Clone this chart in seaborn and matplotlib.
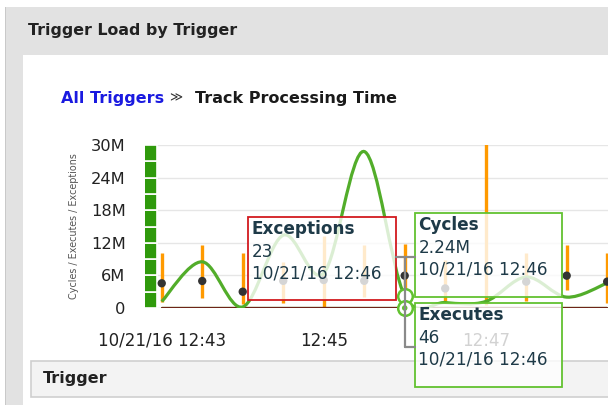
"""
Trigger load chart: cycles spline, mean/range markers and hover tooltips.
"""

import matplotlib

matplotlib.use("Agg")

import matplotlib.dates as mdates
import matplotlib.pyplot as plt
import numpy as np
import pandas as pd
import seaborn as sns
from matplotlib.patches import PathPatch, Rectangle
from matplotlib.path import Path

W, H = 608, 405

# ---- data -------------------------------------------------------------------
day = "2016-10-21"
times = ["12:43:00", "12:43:30", "12:44:00", "12:44:30", "12:45:00", "12:45:30",
         "12:46:00", "12:46:30", "12:47:00", "12:47:30", "12:48:00", "12:48:30"]
cycles_m = [1.2, 8.5, 0.2, 13.4, 6.4, 28.8, 2.24, 1.0, 1.2, 5.7, 2.0, 4.6]
mean_m = [4.55, 4.97, 3.0, 5.0, 5.15, 5.0, 5.95, 3.6, np.nan, 4.85, 5.95, 4.85]
low_m = [1.16, 1.8, 0.7, 0.9, 0.25, 2.1, 2.0, 1.2, 0.5, 1.2, 3.3, 0.9]
high_m = [10.2, 11.6, 10.2, 8.5, 13.3, 11.6, 11.8, 8.8, 31.0, 10.1, 11.6, 10.1]
executes = [44, 47, 45, 46, 43, 48, 46, 45, 47, 44, 46, 45]
exceptions = [22, 24, 21, 23, 22, 25, 23, 22, 24, 23, 21, 22]

column_time = "12:42:52"
column_segments_m = [3, 3, 3, 3, 3, 3, 3, 3, 3, 3]

yticks_m = [0, 6, 12, 18, 24, 30]
ytick_labels = ["0", "6M", "12M", "18M", "24M", "30M"]
xtick_times = ["12:43:00", "12:45:00", "12:47:00"]
xtick_labels = ["10/21/16 12:43", "12:45", "12:47"]
x_range = ["12:42:47.6", "12:48:30.6"]

selected = "12:46:00"
tooltips = [
    ("Exceptions", "23", "10/21/16 12:46"),
    ("Cycles", "2.24M", "10/21/16 12:46"),
    ("Executes", "46", "10/21/16 12:46"),
]

# ---- styling ----------------------------------------------------------------
GREEN_COL = "#2f9a0c"
GREEN_LINE = "#52ad2a"
ORANGE = "#ff9a00"
DARK_RED = "#6e2418"
TIP_TEXT = "#1e3a48"
TIP_GREEN = "#62c230"
TIP_RED = "#d21a1f"

sns.set_style("white")
plt.rcParams["font.family"] = ["DejaVu Sans"]


def to_dt(t):
    return pd.Timestamp(f"{day} {t}")


def fx(x):
    return x / W


def fy(y):
    return 1 - y / H


df = pd.DataFrame({
    "time": [to_dt(t) for t in times],
    "cycles": np.array(cycles_m) * 1e6,
    "mean": np.array(mean_m) * 1e6,
    "low": np.array(low_m) * 1e6,
    "high": np.array(high_m) * 1e6,
    "executes": executes,
    "exceptions": exceptions,
})

fig = plt.figure(figsize=(W / 100, H / 100), dpi=100)
fig.patch.set_facecolor("white")

# page chrome (behind the axes)
fig.add_artist(Rectangle((fx(6), fy(H)), fx(W - 6), (H - 7) / H, transform=fig.transFigure,
                         facecolor="#e2e2e2", edgecolor="none", zorder=-3))
fig.add_artist(Rectangle((fx(5), fy(H)), fx(1.5), (H - 7) / H, transform=fig.transFigure,
                         facecolor="#c9c9c9", edgecolor="none", zorder=-2))
fig.add_artist(Rectangle((fx(23), fy(H)), fx(W - 23), (H - 55) / H, transform=fig.transFigure,
                         facecolor="white", edgecolor="none", zorder=-2))
fig.add_artist(Rectangle((fx(31), fy(397)), fx(W - 31 + 5), 36 / H, transform=fig.transFigure,
                         facecolor="#f3f3f3", edgecolor="#cfcfcf", linewidth=1.2, zorder=-1))

fig.text(fx(28), fy(31), "Trigger Load by Trigger", fontsize=11.4, fontweight="bold",
         color="#222222", va="center", ha="left")
fig.text(fx(61), fy(98), "All Triggers", fontsize=11.5, fontweight="bold",
         color="#1a1ae0", va="center", ha="left")
fig.text(fx(169), fy(98), "\u226b", fontsize=9, color="#333333", va="center", ha="left")
fig.text(fx(195), fy(98), "Track Processing Time", fontsize=11.5, fontweight="bold",
         color="#1a1a1a", va="center", ha="left")
fig.text(fx(43), fy(379), "Trigger", fontsize=11.5, fontweight="bold",
         color="#222222", va="center", ha="left")
fig.text(fx(74), fy(226), "Cycles / Executes / Exceptions", fontsize=6.9,
         color="#555555", rotation=90, va="center", ha="center")

# ---- chart ------------------------------------------------------------------
ax = fig.add_axes([fx(145), fy(308), fx(W - 145), 163 / H])
ax.set_facecolor("none")
for s in ax.spines.values():
    s.set_visible(False)

ax.set_ylim(0, 30e6)
ax.set_xlim(to_dt(x_range[0]), to_dt(x_range[1]))
ax.set_yticks([v * 1e6 for v in yticks_m])
ax.set_yticklabels(ytick_labels)
ax.set_xticks([to_dt(t) for t in xtick_times])
ax.set_xticklabels(xtick_labels)
ax.grid(axis="y", color="#e6e6e6", linewidth=1)
ax.tick_params(axis="y", length=9, width=1, color="#c3d3e3", pad=5,
               labelsize=11.7, labelcolor="#222222")
ax.tick_params(axis="x", length=5, width=1, color="#c3d3e3", pad=12,
               labelsize=12, labelcolor="#222222")

# stacked green column
col_x = mdates.date2num(to_dt(column_time))
bottom = 0.0
for seg in column_segments_m:
    ax.bar(col_x, seg * 1e6, bottom=bottom, width=9.6 / 86400, color=GREEN_COL,
           edgecolor="white", linewidth=1.2, zorder=2)
    bottom += seg * 1e6

# range bars and means
ax.vlines(df["time"], df["low"], df["high"], color=ORANGE, linewidth=2.4, zorder=3)
sns.scatterplot(data=df, x="time", y="mean", ax=ax, color="#333333", s=36,
                edgecolor="none", zorder=4, legend=False, clip_on=False)

# near-zero executes / exceptions lines
sns.lineplot(data=df, x="time", y="executes", ax=ax, color=GREEN_LINE, linewidth=1.6,
             zorder=3, legend=False)
sns.lineplot(data=df, x="time", y="exceptions", ax=ax, color=DARK_RED, linewidth=1.6,
             zorder=3, legend=False)

# smooth cycles spline drawn as cubic bezier through the samples
xs = mdates.date2num(df["time"])
ys = df["cycles"].to_numpy()
verts = [(xs[0], ys[0])]
codes = [Path.MOVETO]
n = len(xs)
for i in range(n - 1):
    p0 = np.array([xs[max(i - 1, 0)], ys[max(i - 1, 0)]])
    p1 = np.array([xs[i], ys[i]])
    p2 = np.array([xs[i + 1], ys[i + 1]])
    p3 = np.array([xs[min(i + 2, n - 1)], ys[min(i + 2, n - 1)]])
    c1 = p1 + (p2 - p0) / 6
    c2 = p2 - (p3 - p1) / 6
    verts += [tuple(c1), tuple(c2), tuple(p2)]
    codes += [Path.CURVE4] * 3
ax.add_patch(PathPatch(Path(verts, codes), facecolor="none", edgecolor=GREEN_LINE,
                       linewidth=2.3, zorder=3))
ax.set_xlabel("")
ax.set_ylabel("")

# hover markers at the selected point
sel = df[df["time"] == to_dt(selected)].iloc[0]
ax.scatter([sel["time"]], [sel["cycles"]], s=110, facecolor="white", edgecolor=TIP_GREEN,
           linewidth=1.8, zorder=6, clip_on=False)
ax.scatter([sel["time"]], [sel["executes"]], s=110, facecolor="white", edgecolor=TIP_GREEN,
           linewidth=1.8, zorder=6, clip_on=False)
ax.scatter([sel["time"]], [sel["executes"]], s=16, facecolor=TIP_GREEN, edgecolor="none",
           zorder=7, clip_on=False)

# ---- tooltips (figure pixel coords) -----------------------------------------
boxes = [(248, 217, 396, 300, TIP_RED), (415, 213, 562, 297, TIP_GREEN),
         (415, 303, 562, 387, TIP_GREEN)]
for (x0, y0, x1, y1, ec), (head, val, stamp) in zip(boxes, tooltips):
    fig.add_artist(Rectangle((fx(x0), fy(y1)), fx(x1 - x0), (y1 - y0) / H,
                             transform=fig.transFigure, facecolor="white", alpha=0.8,
                             edgecolor="none", zorder=5))
    fig.add_artist(Rectangle((fx(x0), fy(y1)), fx(x1 - x0), (y1 - y0) / H,
                             transform=fig.transFigure, facecolor="none", edgecolor=ec,
                             linewidth=1.3, zorder=5))
    fig.text(fx(x0 + 3.5), fy(y0 + 12.5), head, fontsize=12.2, fontweight="bold",
             color=TIP_TEXT, va="center", ha="left", zorder=6)
    fig.text(fx(x0 + 3.5), fy(y0 + 35), val, fontsize=12.2, color=TIP_TEXT,
             va="center", ha="left", zorder=6)
    fig.text(fx(x0 + 3.5), fy(y0 + 57), stamp, fontsize=12.2, color=TIP_TEXT,
             va="center", ha="left", zorder=6)

# connector lines from the hovered point to the tooltips
conn = dict(transform=fig.transFigure, color="#8a8a8a", linewidth=1.6, zorder=5)
fig.add_artist(plt.Line2D([fx(396), fx(415)], [fy(257), fy(257)], **conn))
fig.add_artist(plt.Line2D([fx(405), fx(405)], [fy(257), fy(347)], **conn))
fig.add_artist(plt.Line2D([fx(405), fx(415)], [fy(347), fy(347)], **conn))

fig.savefig("out.png", dpi=100)
plt.close(fig)
